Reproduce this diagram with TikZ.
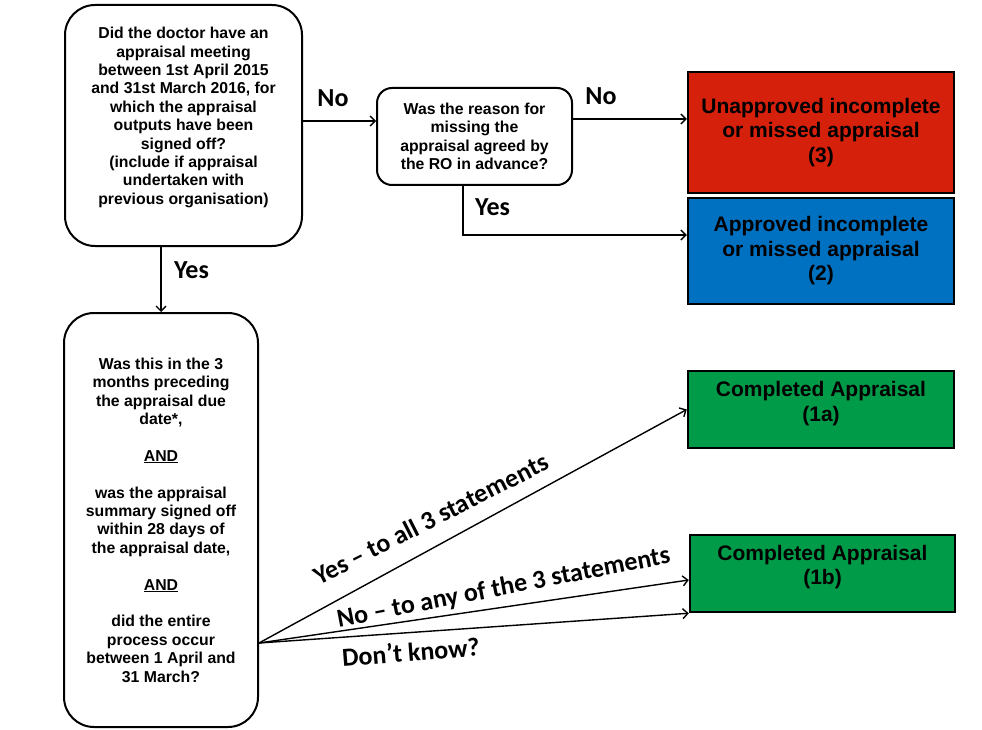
\documentclass[tikz,border=0pt]{standalone}
\usepackage{fontspec}
\setmainfont{Liberation Sans}
\newfontfamily\calfont{Carlito}
\usetikzlibrary{arrows.meta}
\definecolor{rbox}{RGB}{213,32,12}
\definecolor{bbox}{RGB}{0,112,192}
\definecolor{gbox}{RGB}{0,155,72}
\begin{document}
\begin{tikzpicture}[x=1pt,y=1pt,
  qbox/.style={draw=black, line width=2pt, rounded corners=30pt, fill=white},
  qtext/.style={align=center, font=\bfseries\fontsize{15.8}{18.4}\selectfont, inner sep=0pt},
  otext/.style={align=center, font=\bfseries\fontsize{21}{24.5}\selectfont, inner sep=0pt},
  obox/.style={draw=black, line width=2.5pt, minimum width=266pt, otext},
  lbl/.style={font=\calfont\bfseries\fontsize{26}{30}\selectfont, inner sep=0pt, anchor=base},
  arr/.style={line width=1.4pt, -{Straight Barb[length=5pt,width=10pt,line width=1.4pt]}}
]
\useasboundingbox[fill=white] (0,0) rectangle (982,-730);

% question boxes
\node[qbox, minimum width=237pt, minimum height=241pt] (q1) at (183.5,-125.5) {};
\node[qtext] (q1t) at (183.5,-117.5) {Did the doctor have an\\appraisal meeting\\between 1st April 2015\\and 31st March 2016, for\\which the appraisal\\outputs have been\\signed off?\\(include if appraisal\\undertaken with\\previous organisation)};

\node[qbox, qtext, rounded corners=15pt, minimum width=195pt, minimum height=97pt] (q2) at (474.5,-136.5) {Was the reason for\\missing the\\appraisal agreed by\\the RO in advance?};

\node[qbox, qtext, minimum width=194pt, minimum height=414pt] (q3) at (161,-520) {Was this in the 3\\months preceding\\the appraisal due\\date*,\\[18.4pt]\underline{AND}\\[18.4pt]was the appraisal\\summary signed off\\within 28 days of\\the appraisal date,\\[18.4pt]\underline{AND}\\[18.4pt]did the entire\\process occur\\between 1 April and\\31 March?};

% outcome boxes
\node[obox, fill=rbox, minimum height=121pt] (red) at (821,-132.5) {Unapproved incomplete\\or missed appraisal\\(3)};
\node[obox, fill=bbox, minimum height=106pt] (blue) at (821,-251) {Approved incomplete\\or missed appraisal\\(2)};
\node[obox, fill=gbox, minimum height=77pt] (g1) at (821,-409.5) {};
\node[otext] (g1t) at ([yshift=6pt]g1.center) {Completed Appraisal\\(1a)};
\node[obox, fill=gbox, minimum width=265pt, minimum height=77pt] (g2) at (822.5,-573.5) {};
\node[otext] (g2t) at ([yshift=6.5pt]g2.center) {Completed Appraisal\\(1b)};

% connectors
\draw[arr] ([yshift=15.5pt]q2.west -| q1.east) -- ([yshift=15.5pt]q2.west);
\draw[arr] ([yshift=17.5pt]q2.east) -- ([yshift=17.5pt]q2.east -| red.west);
\draw[arr] ([xshift=-11.5pt]q2.south) |- ([yshift=16pt]blue.west);
\draw[arr] (q1.south -| q3.north) -- (q3.north);
\draw[arr] ([yshift=-123pt]q3.east) -- (g1.west);
\draw[arr] ([yshift=-123pt]q3.east) -- ([yshift=-6.5pt]g2.west);
\draw[arr] ([yshift=-123pt]q3.east) -- (g2.south west);

% labels
\node[lbl] (l1) at (333,-107) {No};
\node[lbl] (l2) at (601,-105) {No};
\node[lbl] (l3) at (492.5,-215) {Yes};
\node[lbl] (l4) at (191.5,-278) {Yes};
\node[lbl, rotate=27] (l5) at (435,-527) {Yes – to all 3 statements};
\node[lbl, rotate=11] (l6) at (505,-595) {No – to any of the 3 statements};
\node[lbl, rotate=4.5] (l7) at (411.5,-661) {Don’t know?};
\end{tikzpicture}
\end{document}
